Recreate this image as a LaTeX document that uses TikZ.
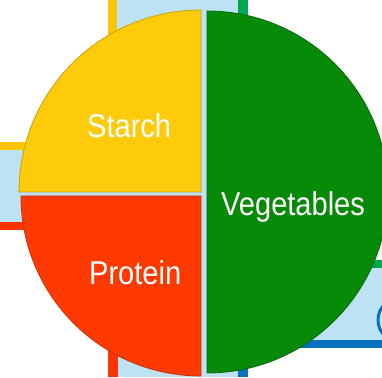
\documentclass[tikz,border=0pt]{standalone}
\usepackage{fontspec}
\usepackage{xcolor}
\usepackage{tikz}
\usetikzlibrary{positioning}
\newfontfamily\platefont[FakeStretch=0.88]{Liberation Sans}
\definecolor{starchyellow}{HTML}{FDCB0A}
\definecolor{proteinred}{HTML}{FF3A00}
\definecolor{veggreen}{HTML}{078A07}
\definecolor{bgblue}{HTML}{BCE2F4}
\definecolor{baryellow}{HTML}{FFC600}
\definecolor{bargreen}{HTML}{00A650}
\definecolor{barblue}{HTML}{0A70C0}
\definecolor{barred}{HTML}{FF3300}
\tikzstyle{slice}=[line width=0.8pt]
\tikzstyle{label}=[font=\platefont\fontsize{33}{36}\selectfont, text=white,
  inner sep=0pt, anchor=base west]
\begin{document}
\begin{tikzpicture}[x=1pt,y=1pt,
  band/.style={fill=bgblue,draw=none},
  bar/.style={draw=none}]
\useasboundingbox (0,0) rectangle (382,377);
% background strips
\fill[band] (117,0) rectangle (238,377);
\fill[bar,baryellow] (108,185) rectangle (117,377);
\fill[bar,barred] (108,0) rectangle (118,185);
\fill[bar,bargreen] (238,185) rectangle (248,377);
\fill[bar,barblue] (238,0) rectangle (248,185);
\fill[band] (0,155) rectangle (100,227);
\fill[bar,baryellow] (0,227) rectangle (100,235);
\fill[bar,barred] (0,147) rectangle (100,155);
\fill[band] (280,37) rectangle (382,109);
\fill[bar,bargreen] (280,109) rectangle (382,117);
\fill[bar,barblue] (280,29) rectangle (382,37);
\draw[barblue,line width=3pt] (400,57) circle (22pt);
% plate
\coordinate (cs) at (201,185);
\coordinate (cp) at (201,181);
\coordinate (cv) at (207,185);
\fill[band] (204,183) circle (178pt);
\filldraw[slice,fill=starchyellow,draw=starchyellow!80!black]
  (cs) -- ++(0,182pt) arc (90:180:182pt) -- cycle;
\filldraw[slice,fill=proteinred,draw=proteinred!80!black]
  (cp) -- ++(-180pt,0) arc (180:270:180pt) -- cycle;
\filldraw[slice,fill=veggreen,draw=veggreen!75!black]
  (cv) -- ++(0,-181pt) arc (-90:90:181pt) -- cycle;
\node[label] (starch) at (87,239) {Starch};
\node[label] (protein) at (89,92) {Protein};
\node[label] (veg) at (221,161) {Vegetables};
\end{tikzpicture}
\end{document}
